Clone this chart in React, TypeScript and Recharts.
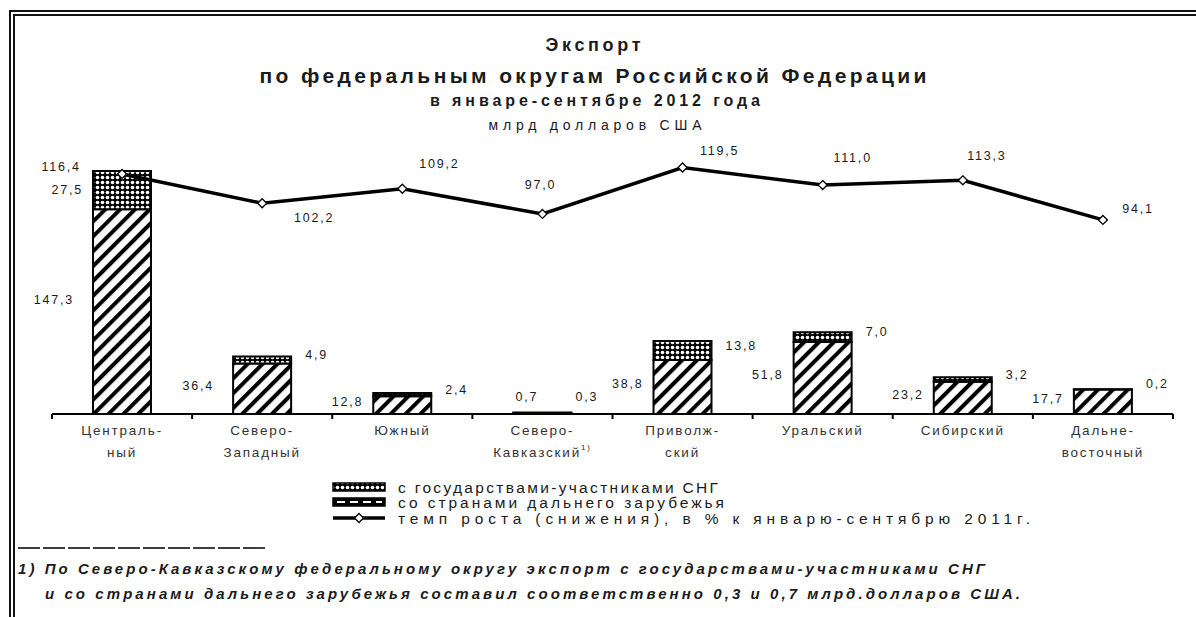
import { ComposedChart, Bar, Line, XAxis, YAxis, LabelList } from "recharts"

const districts = [
  "Центральный",
  "Северо-Западный",
  "Южный",
  "Северо-Кавказский",
  "Приволжский",
  "Уральский",
  "Сибирский",
  "Дальневосточный",
]
const tickLabels: string[][] = [
  ["Централь-", "ный"],
  ["Северо-", "Западный"],
  ["Южный"],
  ["Северо-", "Кавказский"],
  ["Приволж-", "ский"],
  ["Уральский"],
  ["Сибирский"],
  ["Дальне-", "восточный"],
]
// млрд долларов США
const cisExport = [27.5, 4.9, 2.4, 0.3, 13.8, 7.0, 3.2, 0.2]
const farExport = [147.3, 36.4, 12.8, 0.7, 38.8, 51.8, 23.2, 17.7]
// % к январю-сентябрю 2011 г.
const growthRate = [116.4, 102.2, 109.2, 97.0, 119.5, 111.0, 113.3, 94.1]

const data = districts.map((name, i) => ({
  name,
  far: farExport[i],
  cis: cisExport[i],
  growth: growthRate[i],
}))

const W = 1196
const H = 617
const PLOT = { left: 52, right: 1173, top: 150, bottom: 414 }
const X_AXIS_H = 60
const BAND = (PLOT.right - PLOT.left) / districts.length
const INK = "#1b1b1b"
const FONT = "'Liberation Sans', Arial, sans-serif"

// where each growth label sits relative to its point
const growthLabelShift = [
  [-61, -7], [52, 15], [37, -25], [-2, -29], [37, -17], [30, -27], [24, -24], [35, -11],
]

const fmt = (v: number) => v.toFixed(1).replace(".", ",")

const valueText = {
  fontFamily: FONT,
  fontSize: 12.5,
  letterSpacing: 1.8,
  fill: INK,
}

function box(props: any) {
  const vb = props.viewBox ?? props
  return {
    x: vb.x ?? props.x,
    y: vb.y ?? props.y,
    width: vb.width ?? props.width ?? 0,
    height: vb.height ?? props.height ?? 0,
  }
}

function FarLabel(props: any) {
  const { x, y, height } = box(props)
  const i = props.index
  const v = farExport[i]
  if (i === 3) {
    return (
      <text x={x + 2} y={y + height / 2 - 17} textAnchor="start" dominantBaseline="central" {...valueText}>
        {fmt(v)}
      </text>
    )
  }
  const gap = i < 2 ? 19 : 10
  const dy = i === 0 ? -12 : -3
  return (
    <text x={x - gap} y={y + height / 2 + dy} textAnchor="end" dominantBaseline="central" {...valueText}>
      {fmt(v)}
    </text>
  )
}

function CisLabel(props: any) {
  const { x, y, width, height } = box(props)
  const i = props.index
  const v = cisExport[i]
  if (i === 0) {
    return (
      <text x={x - 10} y={y + height / 2} textAnchor="end" dominantBaseline="central" {...valueText}>
        {fmt(v)}
      </text>
    )
  }
  const gap = i === 3 ? 4 : 14
  const dy = i === 3 ? -16 : -5
  return (
    <text x={x + width + gap} y={y + height / 2 + dy} textAnchor="start" dominantBaseline="central" {...valueText}>
      {fmt(v)}
    </text>
  )
}

function GrowthLabel(props: any) {
  const { x, y } = box(props)
  const i = props.index
  const [dx, dy] = growthLabelShift[i]
  return (
    <text x={x + dx} y={y + dy} textAnchor="middle" dominantBaseline="central" {...valueText}>
      {fmt(growthRate[i])}
    </text>
  )
}

function Diamond(props: any) {
  const { cx, cy, index } = props
  const r = 4.5
  return (
    <path
      key={`d-${index}`}
      d={`M${cx},${cy - r} L${cx + r},${cy} L${cx},${cy + r} L${cx - r},${cy} Z`}
      fill="#fff"
      stroke="#000"
      strokeWidth={1.3}
    />
  )
}

function DistrictTick(props: any) {
  const { x, y, index } = props
  const lines = tickLabels[index] ?? []
  return (
    <g>
      <line x1={x - BAND / 2} x2={x - BAND / 2} y1={y} y2={y + 5} stroke="#000" strokeWidth={2} />
      {index === districts.length - 1 && (
        <line x1={x + BAND / 2} x2={x + BAND / 2} y1={y} y2={y + 5} stroke="#000" strokeWidth={2} />
      )}
      {lines.map((t, k) => (
        <text
          key={k}
          x={x}
          y={y + 16 + k * 22}
          textAnchor="middle"
          dominantBaseline="central"
          fontFamily={FONT}
          fontSize={13.5}
          letterSpacing={1.8}
          fill="#333"
        >
          {t}
          {index === 3 && k === 1 && (
            <tspan fontSize={8} dy={-5}>1)</tspan>
          )}
        </text>
      ))}
    </g>
  )
}

function Overlay() {
  const t = { fontFamily: FONT, fill: INK }
  return (
    <svg
      width={W}
      height={H}
      style={{ position: "absolute", left: 0, top: 0, pointerEvents: "none" }}
    >
      <defs>
        <pattern id="hatchFar" width="10.5" height="10.5" patternUnits="userSpaceOnUse" patternTransform="rotate(45)">
          <rect width="10.5" height="10.5" fill="#fff" />
          <rect x="0" width="4" height="10.5" fill="#000" />
        </pattern>
        <pattern id="checkCis" width="5" height="5" patternUnits="userSpaceOnUse">
          <rect width="5" height="5" fill="#000" />
          <circle cx="2.5" cy="2.5" r="1.8" fill="#fff" />
        </pattern>
      </defs>

      {/* title */}
      <text x={593} y={45} textAnchor="middle" dominantBaseline="central" fontWeight="bold" fontSize={18} textLength={95} lengthAdjust="spacing" {...t}>
        Экспорт
      </text>
      <text x={593} y={75} textAnchor="middle" dominantBaseline="central" fontWeight="bold" fontSize={21} textLength={667} lengthAdjust="spacing" {...t}>
        по федеральным округам Российской Федерации
      </text>
      <text x={595} y={100} textAnchor="middle" dominantBaseline="central" fontWeight="bold" fontSize={16} textLength={330} lengthAdjust="spacing" {...t}>
        в январе-сентябре 2012 года
      </text>
      <text x={595} y={125} textAnchor="middle" dominantBaseline="central" fontSize={14} textLength={213} lengthAdjust="spacing" {...t}>
        млрд долларов США
      </text>

      {/* legend */}
      <rect x={333} y={483} width={52} height={8} fill="url(#checkCis)" stroke="#000" strokeWidth={1.5} />
      <text x={398} y={487} dominantBaseline="central" fontSize={15.5} textLength={320} lengthAdjust="spacing" {...t}>
        с государствами-участниками СНГ
      </text>
      <rect x={333} y={498} width={52} height={8} fill="#000" stroke="#000" strokeWidth={1.5} />
      <line x1={337} x2={382} y1={502} y2={502} stroke="#fff" strokeWidth={2} strokeDasharray="8 5" />
      <text x={398} y={502} dominantBaseline="central" fontSize={15.5} textLength={326} lengthAdjust="spacing" {...t}>
        со странами дальнего зарубежья
      </text>
      <line x1={333} x2={385} y1={518} y2={518} stroke="#000" strokeWidth={3.5} />
      <path d="M359,513.5 L363.5,518 L359,522.5 L354.5,518 Z" fill="#fff" stroke="#000" strokeWidth={1.3} />
      <text x={398} y={518} dominantBaseline="central" fontSize={15.5} textLength={632} lengthAdjust="spacing" {...t}>
        темп роста (снижения), в % к январю-сентябрю 2011г.
      </text>

      {/* footnote */}
      <line x1={18} x2={268} y1={548} y2={548} stroke="#000" strokeWidth={1.5} strokeDasharray="22 3" />
      <text x={18} y={568} dominantBaseline="central" fontSize={15} fontWeight="bold" fontStyle="italic" textLength={967} lengthAdjust="spacing" {...t}>
        1) По Северо-Кавказскому федеральному округу экспорт с государствами-участниками СНГ
      </text>
      <text x={45} y={593} dominantBaseline="central" fontSize={15} fontWeight="bold" fontStyle="italic" textLength={975} lengthAdjust="spacing" {...t}>
        и со странами дальнего зарубежья составил соответственно 0,3 и 0,7 млрд.долларов США.
      </text>
    </svg>
  )
}

export default function App() {
  return (
    <div
      style={{
        position: "fixed",
        left: 0,
        top: 0,
        width: W,
        height: H,
        overflow: "hidden",
        background: "#fff",
        fontFamily: FONT,
      }}
    >
      <div
        style={{
          position: "absolute",
          left: 9,
          top: 10,
          width: 1300,
          height: 700,
          border: "6px double #111",
        }}
      />
      <div style={{ position: "absolute", left: 0, top: 0 }}>
        <ComposedChart
          width={W}
          height={H}
          data={data}
          margin={{
            top: PLOT.top,
            right: W - PLOT.right,
            bottom: H - PLOT.bottom - X_AXIS_H,
            left: PLOT.left,
          }}
        >
          <XAxis
            dataKey="name"
            height={X_AXIS_H}
            axisLine={{ stroke: "#000", strokeWidth: 2 }}
            tickLine={false}
            tickSize={0}
            tickMargin={0}
            interval={0}
            tick={<DistrictTick />}
          />
          <YAxis yAxisId="bar" hide domain={[0, 190]} />
          <YAxis yAxisId="growth" hide domain={[0, 128]} />
          <Bar
            yAxisId="bar"
            dataKey="far"
            stackId="exp"
            barSize={58}
            fill="url(#hatchFar)"
            stroke="#000"
            strokeWidth={2}
            isAnimationActive={false}
          >
            <LabelList dataKey="far" content={<FarLabel />} />
          </Bar>
          <Bar
            yAxisId="bar"
            dataKey="cis"
            stackId="exp"
            barSize={58}
            fill="url(#checkCis)"
            stroke="#000"
            strokeWidth={2}
            isAnimationActive={false}
          >
            <LabelList dataKey="cis" content={<CisLabel />} />
          </Bar>
          <Line
            yAxisId="growth"
            dataKey="growth"
            stroke="#000"
            strokeWidth={3.5}
            dot={Diamond}
            activeDot={false}
            isAnimationActive={false}
          >
            <LabelList dataKey="growth" content={<GrowthLabel />} />
          </Line>
        </ComposedChart>
      </div>
      <Overlay />
    </div>
  )
}
